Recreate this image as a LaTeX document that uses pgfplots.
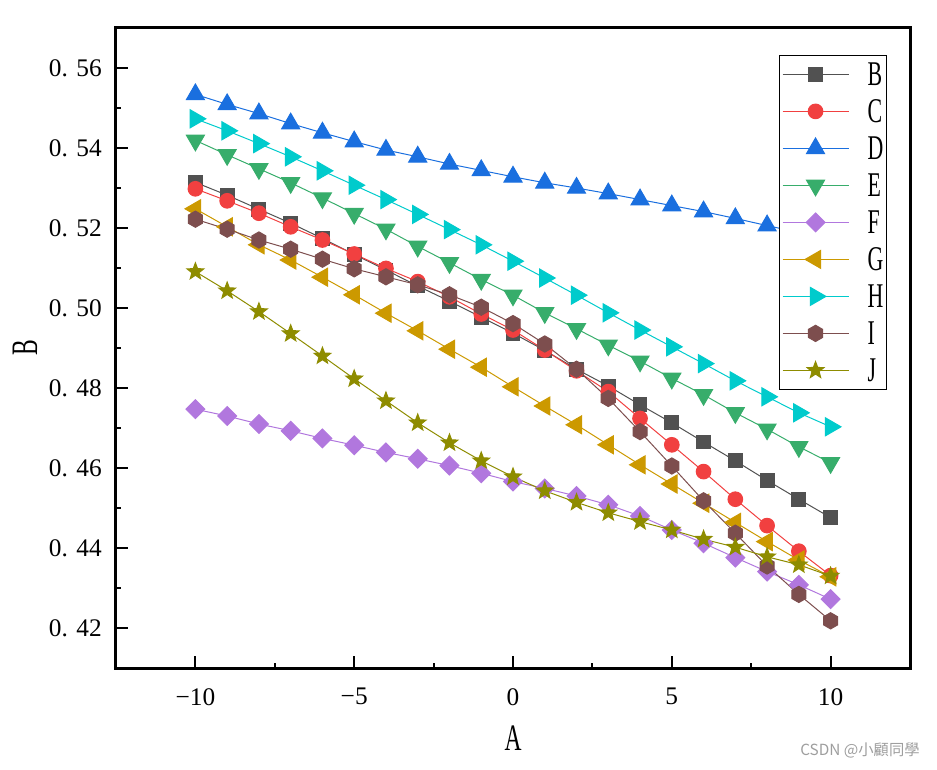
\documentclass[border=0pt]{standalone}
\usepackage{fontspec}
\setmainfont{Liberation Serif}
\newfontfamily\condserif[FakeStretch=0.63]{Liberation Serif}
\newfontfamily\cjk{Noto Sans CJK TC}
\usepackage{pgfplots}
\usepackage{pgfplotstable}
\pgfplotsset{compat=1.18}

\definecolor{cB}{HTML}{515151}
\definecolor{cC}{HTML}{F14040}
\definecolor{cD}{HTML}{1A6FDF}
\definecolor{cE}{HTML}{37AD6B}
\definecolor{cF}{HTML}{B177DE}
\definecolor{cG}{HTML}{CC9900}
\definecolor{cH}{HTML}{00CBCC}
\definecolor{cI}{HTML}{7D4E4E}
\definecolor{cJ}{HTML}{8E8C00}

\pgfdeclareplotmark{hexagon*}{%
  \pgfpathmoveto{\pgfpointpolar{90}{\pgfplotmarksize}}%
  \pgfpathlineto{\pgfpointpolar{150}{\pgfplotmarksize}}%
  \pgfpathlineto{\pgfpointpolar{210}{\pgfplotmarksize}}%
  \pgfpathlineto{\pgfpointpolar{270}{\pgfplotmarksize}}%
  \pgfpathlineto{\pgfpointpolar{330}{\pgfplotmarksize}}%
  \pgfpathlineto{\pgfpointpolar{30}{\pgfplotmarksize}}%
  \pgfpathclose\pgfusepathqfillstroke}
\pgfdeclareplotmark{fstar}{%
  \pgfpathmoveto{\pgfpointpolar{90}{\pgfplotmarksize}}%
  \pgfpathlineto{\pgfpointpolar{126}{0.42\pgfplotmarksize}}%
  \pgfpathlineto{\pgfpointpolar{162}{\pgfplotmarksize}}%
  \pgfpathlineto{\pgfpointpolar{198}{0.42\pgfplotmarksize}}%
  \pgfpathlineto{\pgfpointpolar{234}{\pgfplotmarksize}}%
  \pgfpathlineto{\pgfpointpolar{270}{0.42\pgfplotmarksize}}%
  \pgfpathlineto{\pgfpointpolar{306}{\pgfplotmarksize}}%
  \pgfpathlineto{\pgfpointpolar{342}{0.42\pgfplotmarksize}}%
  \pgfpathlineto{\pgfpointpolar{18}{\pgfplotmarksize}}%
  \pgfpathlineto{\pgfpointpolar{54}{0.42\pgfplotmarksize}}%
  \pgfpathclose\pgfusepathqfillstroke}

\pgfplotstableread{
x B C D E F G H I J
-10 0.5314 0.5298 0.5534 0.5419 0.4747 0.5248 0.5473 0.5222 0.5091
-9 0.5282 0.5268 0.5509 0.5383 0.4730 0.5203 0.5443 0.5197 0.5043
-8 0.5247 0.5237 0.5486 0.5348 0.4710 0.5158 0.5411 0.5170 0.4991
-7 0.5212 0.5203 0.5461 0.5313 0.4693 0.5120 0.5378 0.5147 0.4936
-6 0.5174 0.5170 0.5438 0.5275 0.4674 0.5077 0.5343 0.5122 0.4880
-5 0.5134 0.5135 0.5416 0.5236 0.4657 0.5033 0.5307 0.5098 0.4823
-4 0.5095 0.5099 0.5395 0.5197 0.4639 0.4987 0.5271 0.5078 0.4768
-3 0.5055 0.5066 0.5378 0.5154 0.4623 0.4943 0.5234 0.5058 0.4713
-2 0.5017 0.5028 0.5360 0.5113 0.4606 0.4897 0.5196 0.5033 0.4663
-1 0.4977 0.4985 0.5344 0.5071 0.4587 0.4852 0.5158 0.5002 0.4618
0 0.4937 0.4945 0.5328 0.5032 0.4566 0.4803 0.5117 0.4961 0.4578
1 0.4894 0.4895 0.5313 0.4988 0.4549 0.4755 0.5075 0.4910 0.4543
2 0.4847 0.4843 0.5300 0.4948 0.4530 0.4708 0.5032 0.4847 0.4514
3 0.4805 0.4791 0.5286 0.4907 0.4508 0.4658 0.4988 0.4774 0.4488
4 0.4758 0.4724 0.5271 0.4867 0.4480 0.4608 0.4945 0.4691 0.4466
5 0.4713 0.4658 0.5256 0.4824 0.4445 0.4560 0.4903 0.4605 0.4445
6 0.4665 0.4591 0.5241 0.4783 0.4412 0.4512 0.4861 0.4518 0.4422
7 0.4618 0.4522 0.5224 0.4738 0.4376 0.4464 0.4818 0.4437 0.4402
8 0.4569 0.4456 0.5206 0.4697 0.4341 0.4416 0.4778 0.4355 0.4378
9 0.4522 0.4392 0.5189 0.4653 0.4308 0.4370 0.4738 0.4284 0.4358
10 0.4476 0.4331 0.5172 0.4613 0.4272 0.4328 0.4703 0.4218 0.4330
}\data

\begin{document}
\begin{tikzpicture}
\begin{axis}[
  name=ax,
  width=595.5pt, height=480pt, scale only axis,
  xmin=-12.5, xmax=12.5, ymin=0.41, ymax=0.57,
  xtick={-10,-5,0,5,10},
  xticklabels={−10,−5,0,5,10},
  minor xtick={-7.5,-2.5,2.5,7.5},
  ytick={0.42,0.44,0.46,0.48,0.50,0.52,0.54,0.56},
  yticklabels={0. 42,0. 44,0. 46,0. 48,0. 50,0. 52,0. 54,0. 56},
  minor ytick={0.43,0.45,0.47,0.49,0.51,0.53,0.55},
  tick align=inside,
  xtick pos=bottom, ytick pos=left,
  major tick length=8.8pt, minor tick length=3.75pt,
  every tick/.append style={black, line width=1.5pt},
  axis line style={line width=2.25pt},
  tick label style={font=\fontsize{19}{19}\selectfont},
  xticklabel style={inner sep=0pt, anchor=north, yshift=-15pt},
  yticklabel style={inner sep=0pt, anchor=east, xshift=-10.5pt},
  xlabel={A}, ylabel={B},
  label style={font=\condserif\fontsize{28}{28}\selectfont},
  xlabel style={at={(axis description cs:0.5,-0.109)}, anchor=center},
  ylabel style={at={(axis description cs:-0.1146,0.5)}, anchor=center},
  legend cell align=left,
  legend style={at={(0.971,0.958)}, anchor=north east, draw=black,
    line width=0.75pt, fill=white, inner xsep=2.25pt, inner ysep=2.25pt,
    column sep=14pt, row sep=3.75pt,
    font=\condserif\fontsize{26}{26}\selectfont,
    nodes={inner sep=0pt, text height=20.6pt, text depth=3.4pt}},
  legend image code/.code={\draw[mark repeat=2,mark phase=2] plot coordinates {(0pt,0pt) (24.75pt,0pt) (49.5pt,0pt)};},
]
\addplot[color=cB, line width=0.75pt, mark=square*, mark size=5.2pt, mark options={solid, fill=cB}] table[x=x,y=B]{\data};
\addlegendentry{B}
\addplot[color=cC, line width=0.75pt, mark=*, mark size=5.5pt, mark options={solid, fill=cC}] table[x=x,y=C]{\data};
\addlegendentry{C}
\addplot[color=cD, line width=0.75pt, mark=triangle*, mark size=7.8pt, mark options={solid, fill=cD}] table[x=x,y=D]{\data};
\addlegendentry{D}
\addplot[color=cE, line width=0.75pt, mark=triangle*, mark size=7.8pt, mark options={solid, fill=cE, rotate=180}] table[x=x,y=E]{\data};
\addlegendentry{E}
\addplot[color=cF, line width=0.75pt, mark=square*, mark size=5pt, mark options={solid, fill=cF, rotate=45}] table[x=x,y=F]{\data};
\addlegendentry{F}
\addplot[color=cG, line width=0.75pt, mark=triangle*, mark size=7.8pt, mark options={solid, fill=cG, rotate=90}] table[x=x,y=G]{\data};
\addlegendentry{G}
\addplot[color=cH, line width=0.75pt, mark=triangle*, mark size=7.8pt, mark options={solid, fill=cH, rotate=-90}] table[x=x,y=H]{\data};
\addlegendentry{H}
\addplot[color=cI, line width=0.75pt, mark=hexagon*, mark size=6.1pt, mark options={solid, fill=cI}] table[x=x,y=I]{\data};
\addlegendentry{I}
\addplot[color=cJ, line width=0.75pt, mark=fstar, mark size=6.6pt, mark options={solid, fill=cJ}] table[x=x,y=J]{\data};
\addlegendentry{J}
\end{axis}
\node[anchor=east, xshift=603pt, yshift=-61.5pt, text=black!38, inner sep=0pt, font=\cjk\fontsize{11.5}{11.5}\selectfont] at (ax.south west) {CSDN @小顧同學};
\pgfresetboundingbox
\path[use as bounding box] ([xshift=-87pt,yshift=-75.75pt]ax.south west) rectangle ([xshift=20.25pt,yshift=21pt]ax.north east);
\end{tikzpicture}
\end{document}
